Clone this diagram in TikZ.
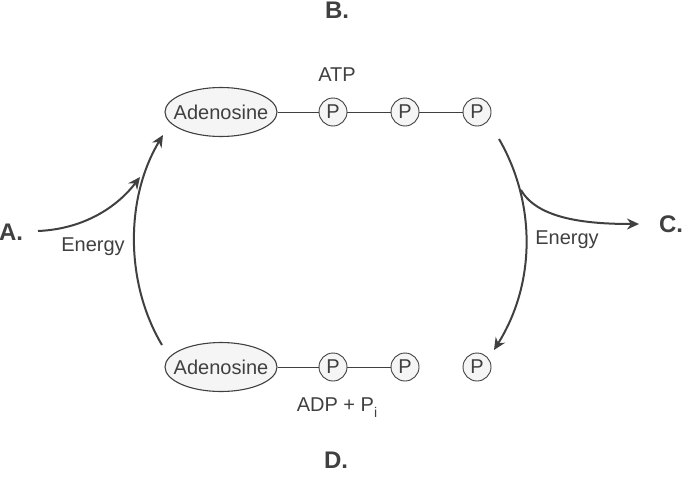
\documentclass[tikz,border=0pt]{standalone}
\usepackage{fontspec}
\setmainfont{Liberation Sans}
\usetikzlibrary{arrows.meta,shapes.geometric}
\definecolor{inkgrey}{HTML}{404040}
\definecolor{fillgrey}{HTML}{F5F5F5}

\begin{document}
\begin{tikzpicture}[x=0.5pt,y=0.5pt,color=inkgrey,
    lab/.style={font=\fontsize{10}{12}\selectfont,text=inkgrey,inner sep=0pt},
    letter/.style={font=\fontsize{12}{14}\selectfont\bfseries,text=inkgrey,inner sep=0pt},
    sugar/.style={ellipse,draw=inkgrey,fill=fillgrey,line width=0.55pt,minimum width=56pt,minimum height=24.5pt,inner xsep=-4pt,inner ysep=0pt,font=\fontsize{10}{12}\selectfont,text=inkgrey},
    phos/.style={circle,draw=inkgrey,fill=fillgrey,line width=0.45pt,minimum size=14pt,inner sep=0pt,font=\fontsize{10}{12}\selectfont,text=inkgrey},
    bond/.style={draw=inkgrey,line width=0.45pt},
    flow/.style={draw=inkgrey,line width=1pt,-{Stealth[length=6pt,width=5.5pt]}}]
  \useasboundingbox (0,0) rectangle (684,478);

  % top row
  \draw (221,366) node[sugar] (adoT) {Adenosine};
  \draw (333,366) node[phos] (pT1) {P};
  \draw (405,366) node[phos] (pT2) {P};
  \draw (477,366) node[phos] (pT3) {P};
  \path[bond] (adoT) edge (pT1);
  \path[bond] (pT1) edge (pT2);
  \path[bond] (pT2) edge (pT3);

  % bottom row
  \draw (221,111) node[sugar] (adoB) {Adenosine};
  \draw (333,111) node[phos] (pB1) {P};
  \draw (405,111) node[phos] (pB2) {P};
  \draw (477,111) node[phos] (pB3) {P};
  \path[bond] (adoB) edge (pB1);
  \path[bond] (pB1) edge (pB2);

  \draw (337,403) node[lab] (atp) {ATP};
  \draw (337,70) node[lab] (adp) {ADP + P\raisebox{-3pt}{\fontsize{7}{8}\selectfont i}};
  \draw (93,231) node[lab] (enL) {Energy};
  \draw (567,238) node[lab] (enR) {Energy};

  \draw (11,246) node[letter] (a) {A.};
  \draw (337,468) node[letter] (b) {B.};
  \draw (671,254) node[letter] (c) {C.};
  \draw (336,18) node[letter] (d) {D.};

  % free ends of the cycle
  \coordinate (leftlow) at (162,133);
  \coordinate (lefthigh) at (163,343);
  \coordinate (righthigh) at (499,339);
  \coordinate (rightlow) at (494,128);
  \coordinate (astart) at (38,247);
  \coordinate (ahit) at (140,301);
  \coordinate (cstart) at (521,288);
  \coordinate (cend) at (639,254);

  \draw[flow] (leftlow) .. controls (125,195) and (125,280) .. (lefthigh);
  \draw[flow] (righthigh) .. controls (536,275) and (536,195) .. (rightlow);
  \draw[flow] (astart) .. controls (85,249) and (118,272) .. (ahit);
  \draw[flow] (cstart) .. controls (538,258) and (590,254) .. (cend);
\end{tikzpicture}
\end{document}
